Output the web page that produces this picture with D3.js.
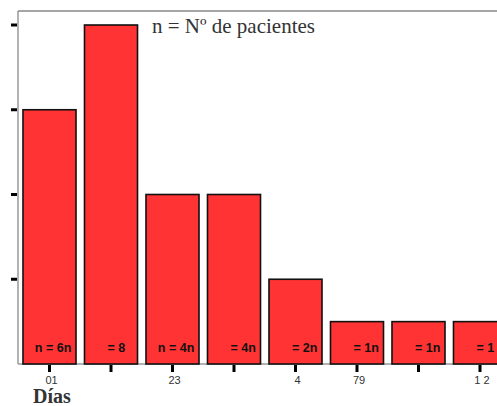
<!DOCTYPE html>
<html><head><meta charset="utf-8">
<script src="https://cdn.jsdelivr.net/npm/d3@7"></script>
<style>body{margin:0;background:#fff}svg{display:block}</style>
</head><body><svg id="c" width="497" height="406"></svg>
<script>
const categories = ["c1","c2","c3","c4","c5","c6","c7","c8"];
const values = [6, 8, 4, 4, 2, 1, 1, 1];
const tickLabels = ["01", "", "23", "", "4", "79", "", "1 2"];
const labelPrefix = ["n", "", "n", "", "", "", "", ""];
const labelBody = ["= 6n", "= 8", "= 4n", "= 4n", "= 2n", "= 1n", "= 1n", "= 1"];
const yTicks = [2, 4, 6, 8];

const svg = d3.select("#c");
const x = d3.scaleBand().domain(categories).range([18.75, 510.75]).paddingInner(0.138).paddingOuter(0.069);
const y = d3.scaleLinear().domain([0, 8]).range([364, 25]);

// frame
svg.append("line").attr("x1",18).attr("x2",18).attr("y1",11).attr("y2",364).attr("stroke","#999").attr("stroke-width",1.5);
svg.append("line").attr("x1",18).attr("x2",497).attr("y1",11).attr("y2",11).attr("stroke","#888").attr("stroke-width",1.5);
svg.append("line").attr("x1",18).attr("x2",497).attr("y1",364).attr("y2",364).attr("stroke","#999").attr("stroke-width",1.5);

// bars
svg.selectAll("rect.bar").data(values).enter().append("rect")
  .attr("x",(d,i)=>x(categories[i]))
  .attr("y",d=>y(d))
  .attr("width",x.bandwidth())
  .attr("height",d=>y(0)-y(d))
  .attr("fill","#FF3333").attr("stroke","#111").attr("stroke-width",1.6);

// bar labels
const lblFont = g => g.attr("font-family","Liberation Sans, Arial, sans-serif")
  .attr("font-weight","bold").attr("font-size",12.5).attr("fill","#111");
svg.selectAll("text.bb").data(labelBody).enter().append("text")
  .attr("x",(d,i)=>x(categories[i])+23)
  .attr("y",352)
  .call(lblFont)
  .text(d=>d);
svg.selectAll("text.bp").data(labelPrefix).enter().append("text")
  .attr("x",(d,i)=>x(categories[i])+19.5)
  .attr("y",352)
  .attr("text-anchor","end")
  .call(lblFont)
  .text(d=>d);

// y ticks
svg.selectAll("line.yt").data(yTicks).enter().append("line")
  .attr("x1",11).attr("x2",17).attr("y1",d=>y(d)).attr("y2",d=>y(d))
  .attr("stroke","#000").attr("stroke-width",3);

// x ticks
svg.selectAll("line.xt").data(categories).enter().append("line")
  .attr("x1",d=>x(d)+x.bandwidth()/2).attr("x2",d=>x(d)+x.bandwidth()/2)
  .attr("y1",365).attr("y2",372)
  .attr("stroke","#000").attr("stroke-width",3);

svg.selectAll("text.xl").data(tickLabels).enter().append("text")
  .attr("x",(d,i)=>x(categories[i])+x.bandwidth()/2+2)
  .attr("y",384)
  .attr("text-anchor","middle")
  .attr("font-family","Liberation Sans, Arial, sans-serif")
  .attr("font-size",11).attr("fill","#333")
  .text(d=>d);

svg.append("text").attr("x",152).attr("y",33)
  .attr("font-family","Liberation Serif, Times New Roman, serif")
  .attr("font-size",21).attr("fill","#333")
  .text("n = Nº de pacientes");

svg.append("text").attr("x",33).attr("y",403)
  .attr("font-family","Liberation Serif, Times New Roman, serif")
  .attr("font-weight","bold").attr("font-size",20).attr("fill","#333")
  .text("Días");
</script></body></html>
